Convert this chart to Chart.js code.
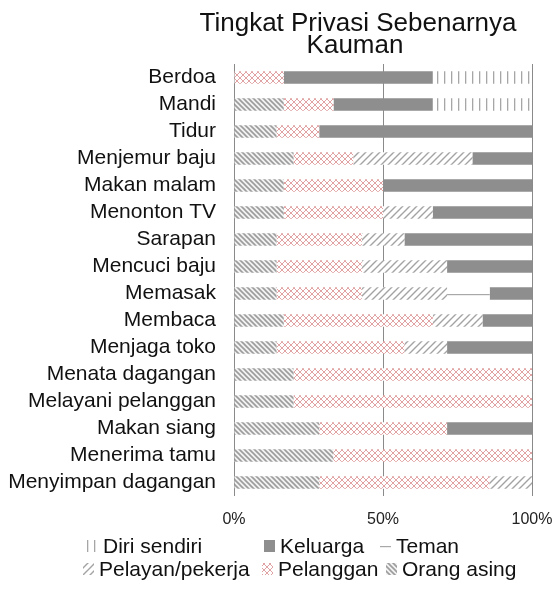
<!DOCTYPE html>
<html>
<head>
<meta charset="utf-8">
<script src="https://cdn.jsdelivr.net/npm/chart.js@4"></script>
<style>
  html, body { margin: 0; padding: 0; background: #fff; }
  #wrap { width: 554px; height: 592px; }
</style>
</head>
<body>
<div id="wrap"><canvas id="privChart" width="554" height="592"></canvas></div>
<script>
const kegiatan = ["Berdoa", "Mandi", "Tidur", "Menjemur baju", "Makan malam", "Menonton TV",
    "Sarapan", "Mencuci baju", "Memasak", "Membaca", "Menjaga toko", "Menata dagangan",
    "Melayani pelanggan", "Makan siang", "Menerima tamu", "Menyimpan dagangan"];

const orangAsing  = [0, 16.7, 14.3, 20, 16.7, 16.7, 14.3, 14.3, 14.3, 16.7, 14.3, 20, 20, 28.6, 33.3, 28.6];
const pelanggan   = [16.7, 16.7, 14.3, 20, 33.3, 33.3, 28.6, 28.6, 28.6, 50, 42.9, 80, 80, 42.9, 66.7, 57.1];
const pelayan     = [0, 0, 0, 40, 0, 16.7, 14.3, 28.6, 28.6, 16.7, 14.3, 0, 0, 0, 0, 14.3];
const teman       = [0, 0, 0, 0, 0, 0, 0, 0, 14.3, 0, 0, 0, 0, 0, 0, 0];
const keluarga    = [50, 33.3, 71.4, 20, 50, 33.3, 42.9, 28.6, 14.3, 16.7, 28.6, 0, 0, 28.6, 0, 0];
const diriSendiri = [33.3, 33.3, 0, 0, 0, 0, 0, 0, 0, 0, 0, 0, 0, 0, 0, 0];

const xTicks = [0, 50, 100];
const judul = ["Tingkat Privasi Sebenarnya", "Kauman"];

const FONT = "'Liberation Sans', Arial, sans-serif";
const canvas = document.getElementById("privChart");
const ctx = canvas.getContext("2d");

// small tile -> repeating pattern
function makePattern(w, h, draw) {
    const c = document.createElement("canvas");
    c.width = w;
    c.height = h;
    draw(c.getContext("2d"), w, h);
    return ctx.createPattern(c, "repeat");
}

const patOrang = makePattern(5, 5, (g, w, h) => {
    g.fillStyle = "#f2f2f2";
    g.fillRect(0, 0, w, h);
    g.strokeStyle = "#9c9c9c";
    g.lineWidth = 1.6;
    g.beginPath();
    g.moveTo(-1, -1); g.lineTo(w + 1, h + 1);
    g.moveTo(-1, h - 1); g.lineTo(1, h + 1);
    g.moveTo(w - 1, -1); g.lineTo(w + 1, 1);
    g.stroke();
});

const patPelanggan = makePattern(6, 6, (g, w, h) => {
    g.fillStyle = "#fff";
    g.fillRect(0, 0, w, h);
    g.strokeStyle = "#e0a2a2";
    g.lineWidth = 1;
    g.beginPath();
    g.moveTo(0, 0); g.lineTo(w, h);
    g.moveTo(w, 0); g.lineTo(0, h);
    g.stroke();
});

const patPelayan = makePattern(7, 7, (g, w, h) => {
    g.fillStyle = "#fff";
    g.fillRect(0, 0, w, h);
    g.strokeStyle = "#a3a3a3";
    g.lineWidth = 1.4;
    g.beginPath();
    g.moveTo(-1, h + 1); g.lineTo(w + 1, -1);
    g.moveTo(-1, 1); g.lineTo(1, -1);
    g.moveTo(w - 1, h + 1); g.lineTo(w + 1, h - 1);
    g.stroke();
});

const ROW = 27;
const patTeman = makePattern(4, ROW, (g, w, h) => {
    g.fillStyle = "#fff";
    g.fillRect(0, 0, w, h);
    g.fillStyle = "#a8a8a8";
    g.fillRect(0, 0, w, 1.2);
});

const patDiri = makePattern(7, 4, (g, w, h) => {
    g.fillStyle = "#fff";
    g.fillRect(0, 0, w, h);
    g.fillStyle = "#a6a6a6";
    g.fillRect(3, 0, 1.3, h);
});

const warnaKeluarga = "#8e8e8e";

// keep the single Teman line in the middle of its bar
const temanAlign = {
    id: "temanAlign",
    beforeDatasetsDraw(chart) {
        const y0 = chart.scales.y.getPixelForValue(0);
        patTeman.setTransform(new DOMMatrix().translate(0, Math.round(y0)));
    }
};

const titleDraw = {
    id: "titleDraw",
    afterDraw(chart) {
        const c = chart.ctx;
        c.save();
        c.fillStyle = "#111";
        c.font = "26px " + FONT;
        c.textAlign = "center";
        c.textBaseline = "alphabetic";
        c.fillText(judul[0], 358, 31);
        c.fillText(judul[1], 355, 53);
        c.restore();
    }
};

const legendItems = [
    { ds: 5, x: 87, y: 546 },
    { ds: 4, x: 264, y: 546 },
    { ds: 3, x: 380, y: 546 },
    { ds: 2, x: 83, y: 569 },
    { ds: 1, x: 262, y: 569 },
    { ds: 0, x: 386, y: 569 }
];

const legendDraw = {
    id: "legendDraw",
    afterDraw(chart) {
        const c = chart.ctx;
        c.save();
        c.font = "21px " + FONT;
        c.textBaseline = "middle";
        legendItems.forEach(it => {
            const ds = chart.data.datasets[it.ds];
            if (ds.label === "Teman") {
                c.fillStyle = "#a8a8a8";
                c.fillRect(it.x, it.y, 11, 1.2);
            } else {
                c.fillStyle = ds.backgroundColor;
                c.fillRect(it.x, it.y - 6, 11, 12);
            }
            c.fillStyle = "#111";
            c.fillText(ds.label, it.x + 16, it.y + 1);
        });
        c.restore();
    }
};

const dataset = (label, data, bg) => ({
    label: label,
    data: data,
    backgroundColor: bg,
    borderWidth: 0,
    barPercentage: 0.46,
    categoryPercentage: 1
});

const privChart = new Chart(canvas, {
    type: "bar",
    data: {
        labels: kegiatan,
        datasets: [
            dataset("Orang asing", orangAsing, patOrang),
            dataset("Pelanggan", pelanggan, patPelanggan),
            dataset("Pelayan/pekerja", pelayan, patPelayan),
            dataset("Teman", teman, patTeman),
            dataset("Keluarga", keluarga, warnaKeluarga),
            dataset("Diri sendiri", diriSendiri, patDiri)
        ]
    },
    options: {
        indexAxis: "y",
        responsive: false,
        animation: false,
        layout: { padding: { top: 64, right: 22, bottom: 56, left: 0 } },
        plugins: {
            legend: { display: false },
            title: { display: false },
            tooltip: { enabled: false }
        },
        scales: {
            x: {
                stacked: true,
                min: 0,
                max: 100,
                afterBuildTicks: s => { s.ticks = xTicks.map(v => ({ value: v })); },
                afterFit: s => {
                    s.height = 40;
                    s.paddingLeft = 0;
                    s.paddingRight = 0;
                },
                grid: { color: "#8a8a8a", lineWidth: 1, drawTicks: false },
                border: { display: false },
                ticks: {
                    padding: 14,
                    maxRotation: 0,
                    color: "#222",
                    font: { family: FONT, size: 16 },
                    callback: v => v + "%"
                }
            },
            y: {
                stacked: true,
                afterFit: s => { s.width = 234; },
                grid: { display: false, drawTicks: false },
                border: { display: false },
                ticks: {
                    padding: 18,
                    color: "#111",
                    font: { family: FONT, size: 21 },
                    autoSkip: false
                }
            }
        }
    },
    plugins: [temanAlign, titleDraw, legendDraw]
});
</script>
</body>
</html>
